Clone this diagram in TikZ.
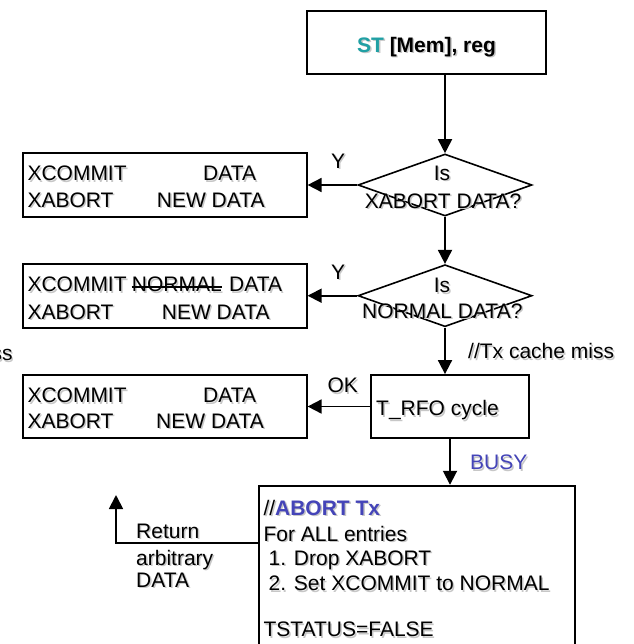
\documentclass[tikz,border=0pt]{standalone}
\usepackage{fontspec}
\setmainfont{Liberation Sans}
\usetikzlibrary{arrows.meta,shapes.geometric}
\definecolor{stteal}{RGB}{32,160,164}
\definecolor{abortblue}{RGB}{68,68,184}
% text with a soft grey drop shadow: #1 shadow copy, #2 printed text
\newcommand\shd[2]{\makebox[0pt][l]{\kern1.5pt\raisebox{-1.5pt}{\textcolor{black!22}{#1}}}#2}
\newcommand\shw[1]{\shd{#1}{#1}}
\begin{document}
\begin{tikzpicture}[x=1pt,y=-1pt,
  font=\fontsize{21}{25}\selectfont,
  box/.style={draw,rectangle,line width=1.8pt,inner sep=0pt},
  dia/.style={draw,shape=diamond,line width=1.6pt,inner sep=0pt,
              minimum width=174pt,minimum height=62pt},
  txt/.style={inner sep=0pt,anchor=base west},
  ctxt/.style={inner sep=0pt,anchor=base},
  arr/.style={-{Triangle[length=14pt,width=14pt]},line width=1.8pt},
  strike/.style={line width=2pt}]
\useasboundingbox (0,0) rectangle (633,644);
\clip (0,0) rectangle (633,644);

% ---- boxes and decisions
\node[box,minimum width=239pt,minimum height=63pt] (st) at (426.5,42.3) {};
\node[dia] (d1) at (445,185) {};
\node[dia] (d2) at (445,295.7) {};
\node[box,minimum width=284pt,minimum height=63.7pt] (b1) at (164.7,185.2) {};
\node[box,minimum width=284pt,minimum height=64pt] (b2) at (164.7,296) {};
\node[box,minimum width=284pt,minimum height=63.3pt] (b3) at (164.7,406.7) {};
\node[box,minimum width=158pt,minimum height=63pt] (rfo) at (450,406.5) {};
\node[box,minimum width=316pt,minimum height=215pt] (big) at (417,593.2) {};

% ---- texts
\node[ctxt] (sttxt) at (426.5,52.5) {\bfseries\shd{ST [Mem], reg}{\textcolor{stteal}{ST} [Mem], reg}};

\node[ctxt] (d1a) at (442,180.5) {\shw{Is}};
\node[ctxt] (d1b) at (443,208.5) {\shw{XABORT DATA?}};
\node[ctxt] (d2a) at (442,292.5) {\shw{Is}};
\node[ctxt] (d2b) at (442.3,318.2) {\shw{NORMAL DATA?}};

\node[ctxt] (y1) at (338,168.2) {\shw{Y}};
\node[ctxt] (y2) at (338,279.2) {\shw{Y}};
\node[ctxt] (ok) at (342.7,392.5) {\shw{OK}};

\node[txt] (b1a) at (27.3,180.8) {\shw{XCOMMIT}};
\node[txt] (b1b) at (203,180.8) {\shw{DATA}};
\node[txt] (b1c) at (27.3,207.5) {\shw{XABORT}};
\node[txt] (b1d) at (156.7,207.5) {\shw{NEW DATA}};

\node[txt] (b2a) at (27.3,291.5) {\shw{XCOMMIT}};
\node[txt] (nrm) at (131.7,291.5) {\shw{NORMAL}};
\node[txt] (b2b) at (229,291.5) {\shw{DATA}};
\node[txt] (b2c) at (27.3,319.2) {\shw{XABORT}};
\node[txt] (b2d) at (161.7,319.2) {\shw{NEW DATA}};
\draw[strike] ([yshift=4.8pt]nrm.base west) -- ([yshift=4.8pt]nrm.base east);

\node[txt] (b3a) at (27.3,402.5) {\shw{XCOMMIT}};
\node[txt] (b3b) at (203,402.5) {\shw{DATA}};
\node[txt] (b3c) at (27.3,428.2) {\shw{XABORT}};
\node[txt] (b3d) at (156,428.2) {\shw{NEW DATA}};

\node[txt] (miss) at (468,358.5) {\shw{//Tx cache miss}};
\node[inner sep=0pt,anchor=base east] (ss) at (12.7,360.5) {\shw{ss}};
\node[txt] (rfotxt) at (376,415.5) {\shw{T\_RFO cycle}};
\node[txt] (busy) at (470,469.5) {\shd{BUSY}{\textcolor{abortblue}{BUSY}}};

\node[txt] (ab1) at (263.3,515) {\shd{//\textbf{ABORT Tx}}{//\textcolor{abortblue}{\bfseries ABORT Tx}}};
\node[txt] (ab2) at (263.3,541) {\shw{For ALL entries}};
\node[txt] (ab3) at (268.5,565) {\shw{1. Drop XABORT}};
\node[txt] (ab4) at (268.5,590.7) {\shw{2. Set XCOMMIT to NORMAL}};
\node[txt] (ab5) at (263.3,636.7) {\shw{TSTATUS=FALSE}};

\node[txt] (r1) at (136,538.3) {\shw{Return}};
\node[txt] (r2) at (136,565) {\shw{arbitrary}};
\node[txt] (r3) at (136,587.3) {\shw{DATA}};

% ---- connectors
\draw[arr] (st.south -| d1.north) -- (d1.north);
\draw[arr] (d1.west) -- (d1.west -| b1.east);
\draw[arr] (d1.south) -- (d2.north);
\draw[arr] (d2.west) -- (d2.west -| b2.east);
\draw[arr] (d2.south) -- (d2.south |- rfo.north);
\draw[arr] (rfo.west) -- (rfo.west -| b3.east);
\draw[arr] (rfo.south) -- (rfo.south |- big.north);
\coordinate (retlvl) at (0,542.7);
\coordinate (rettip) at (116,495);
\draw[arr] (big.west |- retlvl) -| (rettip);
\end{tikzpicture}
\end{document}
